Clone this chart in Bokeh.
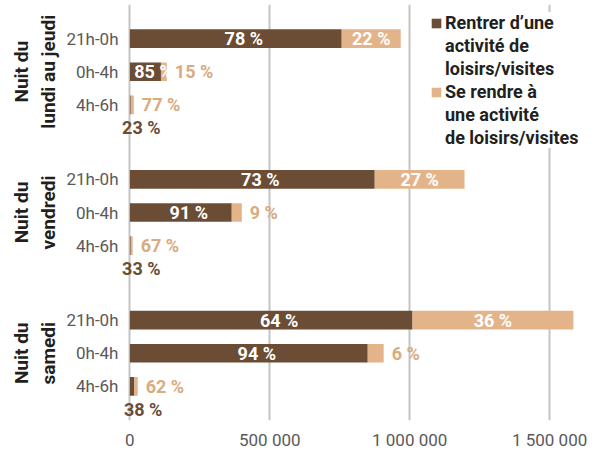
from bokeh.plotting import figure
from bokeh.models import (FactorRange, ColumnDataSource, FixedTicker, Legend,
                          LegendItem, Range1d)
from bokeh.embed import file_html
from bokeh.resources import INLINE
from bokeh.core.properties import value

# ---------------- data ----------------
nights = ["Nuit du\nlundi au jeudi", "Nuit du\nvendredi", "Nuit du\nsamedi"]
slots = ["21h-0h", "0h-4h", "4h-6h"]
rentrer = [757000, 111000, 3000, 875000, 364000, 3000, 1010000, 850000, 16000]
se_rendre = [211000, 21000, 11000, 321000, 36000, 7000, 575000, 57000, 12000]
pct_rentrer = ["78 %", "85 %", "23 %", "73 %", "91 %", "33 %", "64 %", "94 %", "38 %"]
pct_se_rendre = ["22 %", "15 %", "77 %", "27 %", "9 %", "67 %", "36 %", "6 %", "62 %"]
series_lines = [["Rentrer d\u2019une", "activit\u00e9 de", "loisirs/visites"],
                ["Se rendre \u00e0", "une activit\u00e9", "de loisirs/visites"]]
tick_values = [0, 500000, 1000000, 1500000]
tick_labels = ["0", "500 000", "1 000 000", "1 500 000"]

DARK = "#6B4C35"
LIGHT = "#E3B48A"
LIGHT_TXT = "#D8AB80"
FONT = "Roboto"

factors = [(n, s) for n in nights for s in slots]
src = ColumnDataSource(dict(y=factors, rentrer=rentrer, se_rendre=se_rendre))

p = figure(width=592, height=452, output_backend="svg", toolbar_location=None,
           tools="", y_range=FactorRange(*factors[::-1], group_padding=1.25,
                                         factor_padding=0, range_padding=0.53,
                                         range_padding_units="absolute"),
           x_range=Range1d(-30000, 1639000),
           min_border_left=121, min_border_right=4, min_border_top=4,
           min_border_bottom=31)
p.outline_line_color = None

rs = p.hbar_stack(["rentrer", "se_rendre"], y="y", height=0.56,
                  color=[DARK, LIGHT], line_color=None, source=src)

# labels
in_d = dict(x=[], y=[], t=[])
in_l = dict(x=[], y=[], t=[])
out_l = dict(x=[], y=[], t=[])
below = dict(x=[], y=[], t=[])
for f, a, b, ta, tb in zip(factors, rentrer, se_rendre, pct_rentrer, pct_se_rendre):
    if a >= 100000:
        in_d["x"].append(a / 2); in_d["y"].append(f); in_d["t"].append(ta)
    else:
        below["x"].append(a / 2); below["y"].append(f); below["t"].append(ta)
    if b >= 100000:
        in_l["x"].append(a + b / 2); in_l["y"].append(f); in_l["t"].append(tb)
    else:
        out_l["x"].append(a + b); out_l["y"].append(f); out_l["t"].append(tb)

common = dict(text_font=value(FONT), text_font_size="18px", text_font_style="bold",
              text_baseline="middle")
p.text(x="x", y="y", text="t", source=ColumnDataSource(in_d), text_color="white",
       text_align="center", x_offset=8, **common)
p.text(x="x", y="y", text="t", source=ColumnDataSource(in_l), text_color="white",
       text_align="center", **common)
p.text(x="x", y="y", text="t", source=ColumnDataSource(out_l), text_color=LIGHT_TXT,
       text_align="left", x_offset=8, **common)
p.text(x="x", y="y", text="t", source=ColumnDataSource(below), text_color=DARK,
       text_align="center", x_offset=11, y_offset=23, **common)

# axes
p.xaxis.ticker = FixedTicker(ticks=tick_values)
p.xaxis.major_label_overrides = {v: l for v, l in zip(tick_values, tick_labels)}
p.xaxis.axis_line_color = None
p.xaxis.major_tick_line_color = None
p.xaxis.minor_tick_line_color = None
p.xaxis.major_tick_out = 0
p.xaxis.major_label_standoff = 9
p.xaxis.major_label_text_font = FONT
p.xaxis.major_label_text_font_size = "17px"
p.xaxis.major_label_text_color = "#595959"

p.yaxis.axis_line_color = None
p.yaxis.major_tick_line_color = None
p.yaxis.major_tick_out = 0
p.yaxis.separator_line_color = None
p.yaxis.major_label_text_font = FONT
p.yaxis.major_label_text_font_size = "17px"
p.yaxis.major_label_text_color = "#595959"
p.yaxis.major_label_standoff = 3
p.yaxis.group_text_font = FONT
p.yaxis.group_text_font_size = "19px"
p.yaxis.group_text_font_style = "bold"
p.yaxis.group_text_color = "#231F20"
p.yaxis.group_label_orientation = "parallel"

p.xgrid.grid_line_color = "#C4C4C4"
p.xgrid.grid_line_width = 2
p.ygrid.grid_line_color = None

# invisible renderer used for the continuation lines of the legend labels
blank = p.hbar(y=[], right=[], height=0.5, fill_alpha=0, line_alpha=0)

items = []
for r, lines in zip(rs, series_lines):
    items.append(LegendItem(label=lines[0], renderers=[r]))
    for ln in lines[1:]:
        items.append(LegendItem(label=ln, renderers=[blank]))

legend = Legend(items=items, location=(309, 272), margin=0, padding=4,
                glyph_width=12, glyph_height=12, label_standoff=3, spacing=2,
                label_text_font=FONT, label_text_font_size="18px",
                label_text_font_style="bold", label_text_color="#231F20",
                border_line_color=None, background_fill_color="white",
                background_fill_alpha=1.0)
p.add_layout(legend)

open("out.html", "w").write(file_html(p, INLINE))
